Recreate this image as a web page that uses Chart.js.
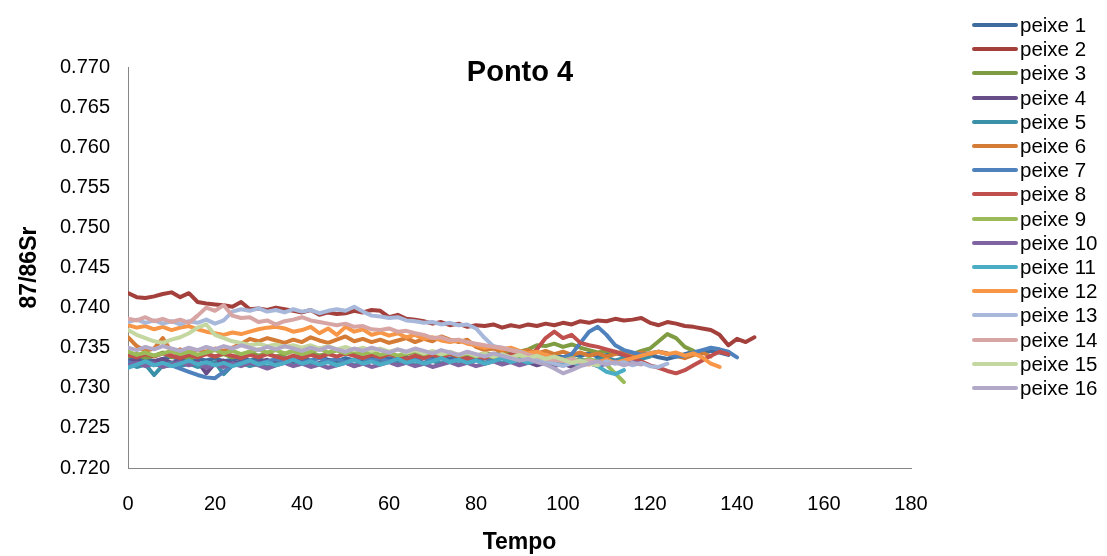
<!DOCTYPE html>
<html>
<head>
<meta charset="utf-8">
<script src="https://cdn.jsdelivr.net/npm/chart.js@4/dist/chart.umd.min.js"></script>
<style>
  body { margin: 0; background: #fff; }
  #wrap { position: relative; width: 1107px; height: 556px; font-family: "Liberation Sans", Arial, sans-serif; }
  #chart { position: absolute; left: 0; top: 0; }
  #title { position: absolute; left: 400px; width: 240px; top: 55px; line-height: 32px; text-align: center; font-weight: bold; font-size: 29px; color: #000; }
  #legend { position: absolute; left: 972px; top: 13px; }
  .leg-row { display: flex; align-items: center; height: 24.2px; font-size: 20.5px; color: #000; white-space: nowrap; }
  .leg-line { width: 46px; height: 4px; border-radius: 2px; margin-right: 2px; }
</style>
</head>
<body>
<div id="wrap">
  <canvas id="chart" width="1107" height="556"></canvas>
  <div id="title">Ponto 4</div>
  <div id="legend"></div>
</div>
<script>
  // Tempo values (shared sample grid for all series)
  var tempo = [0, 2, 4, 6, 8, 10, 12, 14, 16, 18, 20, 22, 24, 26, 28, 30, 32, 34, 36, 38,
    40, 42, 44, 46, 48, 50, 52, 54, 56, 58, 60, 62, 64, 66, 68, 70, 72, 74, 76, 78,
    80, 82, 84, 86, 88, 90, 92, 94, 96, 98, 100, 102, 104, 106, 108, 110, 112, 114, 116, 118,
    120, 122, 124, 126, 128, 130, 132, 134, 136, 138, 140, 142, 144];

  var xTicks = [0, 20, 40, 60, 80, 100, 120, 140, 160, 180];
  var yTicks = [0.720, 0.725, 0.730, 0.735, 0.740, 0.745, 0.750, 0.755, 0.760, 0.765, 0.770];

  var names = ['peixe 1', 'peixe 2', 'peixe 3', 'peixe 4', 'peixe 5', 'peixe 6', 'peixe 7', 'peixe 8',
    'peixe 9', 'peixe 10', 'peixe 11', 'peixe 12', 'peixe 13', 'peixe 14', 'peixe 15', 'peixe 16'];

  var colors = ['#3F6C9E', '#A3403C', '#7F9C43', '#674E89', '#3A91A7', '#D47B35', '#4F81BD', '#C0504D',
    '#9BBB59', '#8064A2', '#4BACC6', '#F79646', '#A7B8DA', '#D7A5A4', '#C4D7A1', '#B2A9C9'];

  var peixe1 = [0.7338, 0.7334, 0.7337, 0.7333, 0.7336, 0.7339, 0.7335, 0.7332, 0.7336, 0.7334,
    0.7337, 0.7333, 0.7335, 0.7338, 0.7334, 0.7336, 0.7332, 0.7335, 0.7337, 0.7333,
    0.7336, 0.7334, 0.7338, 0.7335, 0.7333, 0.7337, 0.7334, 0.7336, 0.7339, 0.7335,
    0.7337, 0.7334, 0.7338, 0.7336, 0.7340, 0.7337, 0.7339, 0.7336, 0.7341, 0.7338,
    0.7340, 0.7337, 0.7341, 0.7339, 0.7342, 0.7338, 0.7340, 0.7343, 0.7339, 0.7341,
    0.7338, 0.7342, 0.7340, 0.7343, 0.7339, 0.7341, 0.7344, 0.7340, 0.7342, 0.7339,
    0.7341, 0.7338, 0.7336, 0.7339, 0.7342, 0.7345, 0.7343, 0.7346, 0.7344, 0.7341];

  var peixe2 = [0.7418, 0.7413, 0.7412, 0.7414, 0.7417, 0.7419, 0.7413, 0.7418, 0.7407, 0.7405,
    0.7404, 0.7403, 0.7401, 0.7407, 0.7398, 0.7399, 0.7397, 0.7400, 0.7398, 0.7396,
    0.7394, 0.7397, 0.7391, 0.7394, 0.7392, 0.7393, 0.7396, 0.7394, 0.7397, 0.7396,
    0.7388, 0.7391, 0.7386, 0.7385, 0.7383, 0.7380, 0.7382, 0.7378, 0.7380, 0.7376,
    0.7378, 0.7377, 0.7379, 0.7375, 0.7378, 0.7376, 0.7379, 0.7377, 0.7380, 0.7378,
    0.7381, 0.7379, 0.7383, 0.7381, 0.7384, 0.7383, 0.7386, 0.7384, 0.7385, 0.7387,
    0.7381, 0.7378, 0.7382, 0.7380, 0.7377, 0.7376, 0.7374, 0.7372, 0.7366, 0.7353,
    0.7361, 0.7357, 0.7363];

  var peixe3 = [0.7339, 0.7342, 0.7337, 0.7340, 0.7344, 0.7338, 0.7341, 0.7336, 0.7340, 0.7343,
    0.7339, 0.7342, 0.7338, 0.7341, 0.7345, 0.7340, 0.7343, 0.7339, 0.7342, 0.7346,
    0.7341, 0.7344, 0.7340, 0.7343, 0.7347, 0.7342, 0.7345, 0.7341, 0.7344, 0.7340,
    0.7343, 0.7339, 0.7342, 0.7345, 0.7341, 0.7344, 0.7340, 0.7343, 0.7339, 0.7342,
    0.7340, 0.7343, 0.7341, 0.7344, 0.7342, 0.7345, 0.7348, 0.7353, 0.7352, 0.7355,
    0.7351, 0.7354, 0.7350, 0.7347, 0.7344, 0.7346, 0.7343, 0.7345, 0.7342, 0.7346,
    0.7349, 0.7358, 0.7367, 0.7362, 0.7351, 0.7346];

  var peixe4 = [0.7332, 0.7335, 0.7330, 0.7333, 0.7336, 0.7331, 0.7334, 0.7329, 0.7333, 0.7318,
    0.7331, 0.7334, 0.7330, 0.7333, 0.7328, 0.7332, 0.7335, 0.7330, 0.7333, 0.7329,
    0.7332, 0.7328, 0.7331, 0.7334, 0.7329, 0.7332, 0.7327, 0.7331, 0.7334, 0.7330,
    0.7333, 0.7329, 0.7332, 0.7335, 0.7331, 0.7334, 0.7330, 0.7333, 0.7336, 0.7332,
    0.7335, 0.7331, 0.7334, 0.7330, 0.7333, 0.7329, 0.7332, 0.7328, 0.7331, 0.7327,
    0.7330, 0.7326, 0.7329];

  var peixe5 = [0.7330, 0.7326, 0.7329, 0.7316, 0.7328, 0.7331, 0.7327, 0.7330, 0.7326, 0.7329,
    0.7332, 0.7317, 0.7328, 0.7331, 0.7327, 0.7330, 0.7326, 0.7329, 0.7332, 0.7328,
    0.7331, 0.7327, 0.7330, 0.7333, 0.7329, 0.7332, 0.7328, 0.7331, 0.7334, 0.7330,
    0.7333, 0.7329, 0.7332, 0.7328, 0.7331, 0.7334, 0.7330, 0.7333, 0.7329, 0.7332,
    0.7335, 0.7331, 0.7334, 0.7330, 0.7333, 0.7336, 0.7332, 0.7335, 0.7331, 0.7334,
    0.7330, 0.7333, 0.7336, 0.7332, 0.7335, 0.7338, 0.7334, 0.7337, 0.7340, 0.7336,
    0.7339];

  var peixe6 = [0.7363, 0.7352, 0.7346, 0.7349, 0.7362, 0.7345, 0.7348, 0.7344, 0.7347, 0.7345,
    0.7349, 0.7346, 0.7350, 0.7355, 0.7361, 0.7358, 0.7362, 0.7359, 0.7356, 0.7360,
    0.7357, 0.7363, 0.7359, 0.7356, 0.7360, 0.7364, 0.7358, 0.7361, 0.7357, 0.7360,
    0.7356, 0.7359, 0.7362, 0.7357, 0.7361, 0.7358, 0.7364, 0.7360, 0.7357, 0.7360,
    0.7351, 0.7347, 0.7349, 0.7345, 0.7348, 0.7344, 0.7347, 0.7343, 0.7346, 0.7342,
    0.7345, 0.7341, 0.7344, 0.7340, 0.7343, 0.7339, 0.7342, 0.7345, 0.7341, 0.7344,
    0.7342, 0.7345, 0.7343, 0.7340, 0.7337, 0.7341, 0.7344, 0.7339];

  var peixe7 = [0.7332, 0.7329, 0.7333, 0.7330, 0.7327, 0.7328, 0.7324, 0.7320, 0.7316, 0.7313,
    0.7312, 0.7320, 0.7328, 0.7331, 0.7334, 0.7330, 0.7333, 0.7336, 0.7332, 0.7335,
    0.7331, 0.7334, 0.7337, 0.7333, 0.7336, 0.7332, 0.7335, 0.7338, 0.7334, 0.7337,
    0.7333, 0.7336, 0.7332, 0.7335, 0.7338, 0.7334, 0.7337, 0.7333, 0.7336, 0.7332,
    0.7335, 0.7338, 0.7334, 0.7337, 0.7333, 0.7336, 0.7339, 0.7335, 0.7338, 0.7334,
    0.7337, 0.7342, 0.7356, 0.7370, 0.7376, 0.7366, 0.7353, 0.7347, 0.7344, 0.7341,
    0.7343, 0.7345, 0.7342, 0.7339, 0.7340, 0.7344, 0.7347, 0.7350, 0.7348, 0.7345,
    0.7338];

  var peixe8 = [0.7341, 0.7338, 0.7342, 0.7339, 0.7343, 0.7340, 0.7337, 0.7341, 0.7338, 0.7342,
    0.7339, 0.7343, 0.7340, 0.7337, 0.7341, 0.7338, 0.7342, 0.7339, 0.7336, 0.7340,
    0.7337, 0.7341, 0.7338, 0.7342, 0.7339, 0.7343, 0.7340, 0.7337, 0.7341, 0.7338,
    0.7342, 0.7339, 0.7336, 0.7340, 0.7337, 0.7341, 0.7338, 0.7342, 0.7339, 0.7336,
    0.7340, 0.7337, 0.7341, 0.7338, 0.7342, 0.7339, 0.7338, 0.7348, 0.7362, 0.7370,
    0.7362, 0.7366, 0.7356, 0.7353, 0.7351, 0.7348, 0.7345, 0.7341, 0.7337, 0.7333,
    0.7328, 0.7325, 0.7321, 0.7318, 0.7322, 0.7328, 0.7334, 0.7340, 0.7345, 0.7342];

  var peixe9 = [0.7345, 0.7341, 0.7344, 0.7340, 0.7343, 0.7346, 0.7342, 0.7345, 0.7341, 0.7344,
    0.7347, 0.7343, 0.7346, 0.7342, 0.7345, 0.7348, 0.7344, 0.7347, 0.7343, 0.7346,
    0.7342, 0.7345, 0.7349, 0.7344, 0.7347, 0.7343, 0.7346, 0.7342, 0.7345, 0.7341,
    0.7344, 0.7340, 0.7343, 0.7346, 0.7342, 0.7345, 0.7341, 0.7344, 0.7340, 0.7343,
    0.7339, 0.7342, 0.7338, 0.7341, 0.7337, 0.7340, 0.7336, 0.7339, 0.7335, 0.7338,
    0.7334, 0.7337, 0.7333, 0.7336, 0.7332, 0.7329, 0.7318, 0.7307];

  var peixe10 = [0.7328, 0.7331, 0.7327, 0.7330, 0.7326, 0.7329, 0.7332, 0.7328, 0.7331, 0.7325,
    0.7329, 0.7326, 0.7330, 0.7327, 0.7331, 0.7328, 0.7324, 0.7328, 0.7331, 0.7327,
    0.7330, 0.7326, 0.7329, 0.7325, 0.7328, 0.7331, 0.7327, 0.7330, 0.7326, 0.7329,
    0.7332, 0.7328, 0.7331, 0.7327, 0.7330, 0.7326, 0.7329, 0.7332, 0.7328, 0.7331,
    0.7327, 0.7330, 0.7333, 0.7329, 0.7332, 0.7328, 0.7331, 0.7334, 0.7330, 0.7333,
    0.7329, 0.7332, 0.7328, 0.7331, 0.7327, 0.7330, 0.7333, 0.7329, 0.7332, 0.7330];

  var peixe11 = [0.7325, 0.7329, 0.7333, 0.7328, 0.7331, 0.7327, 0.7330, 0.7334, 0.7329, 0.7332,
    0.7328, 0.7331, 0.7327, 0.7330, 0.7334, 0.7329, 0.7332, 0.7328, 0.7331, 0.7335,
    0.7330, 0.7333, 0.7329, 0.7332, 0.7328, 0.7331, 0.7335, 0.7330, 0.7333, 0.7329,
    0.7332, 0.7336, 0.7331, 0.7334, 0.7330, 0.7333, 0.7337, 0.7332, 0.7335, 0.7331,
    0.7334, 0.7330, 0.7333, 0.7337, 0.7332, 0.7335, 0.7331, 0.7334, 0.7330, 0.7333,
    0.7329, 0.7332, 0.7328, 0.7331, 0.7327, 0.7320, 0.7317, 0.7322];

  var peixe12 = [0.7378, 0.7375, 0.7377, 0.7373, 0.7376, 0.7372, 0.7375, 0.7377, 0.7373, 0.7370,
    0.7368, 0.7366, 0.7369, 0.7367, 0.7370, 0.7373, 0.7375, 0.7376, 0.7374, 0.7370,
    0.7372, 0.7376, 0.7368, 0.7374, 0.7366, 0.7376, 0.7370, 0.7373, 0.7366, 0.7369,
    0.7365, 0.7368, 0.7363, 0.7366, 0.7361, 0.7363, 0.7359, 0.7357, 0.7359, 0.7355,
    0.7353, 0.7350, 0.7352, 0.7348, 0.7350, 0.7346, 0.7343, 0.7345, 0.7341, 0.7338,
    0.7335, 0.7331, 0.7333, 0.7329, 0.7332, 0.7335, 0.7331, 0.7334, 0.7337, 0.7340,
    0.7343, 0.7345, 0.7342, 0.7344, 0.7340, 0.7343, 0.7338, 0.7330, 0.7326];

  var peixe13 = [0.7382, 0.7385, 0.7381, 0.7384, 0.7380, 0.7383, 0.7379, 0.7383, 0.7381, 0.7385,
    0.7380, 0.7384, 0.7395, 0.7398, 0.7396, 0.7399, 0.7395, 0.7397, 0.7394, 0.7398,
    0.7395, 0.7397, 0.7393, 0.7396, 0.7398, 0.7396, 0.7401, 0.7395, 0.7390, 0.7389,
    0.7387, 0.7388, 0.7384, 0.7383, 0.7381, 0.7382, 0.7379, 0.7381, 0.7378, 0.7379,
    0.7374, 0.7362, 0.7352, 0.7350, 0.7347, 0.7345, 0.7341, 0.7337, 0.7334, 0.7330,
    0.7327, 0.7331, 0.7333, 0.7331, 0.7329, 0.7333, 0.7330, 0.7332, 0.7328, 0.7331,
    0.7327, 0.7326, 0.7330];

  var peixe14 = [0.7386, 0.7384, 0.7388, 0.7383, 0.7386, 0.7382, 0.7385, 0.7381, 0.7390, 0.7400,
    0.7396, 0.7403, 0.7390, 0.7387, 0.7388, 0.7382, 0.7384, 0.7379, 0.7383, 0.7385,
    0.7388, 0.7384, 0.7382, 0.7380, 0.7378, 0.7380, 0.7376, 0.7377, 0.7373, 0.7372,
    0.7374, 0.7370, 0.7371, 0.7368, 0.7366, 0.7362, 0.7363, 0.7359, 0.7360, 0.7357,
    0.7355, 0.7353, 0.7351, 0.7350, 0.7347, 0.7344, 0.7341, 0.7339, 0.7336, 0.7335,
    0.7333, 0.7336, 0.7332, 0.7334, 0.7331];

  var peixe15 = [0.7372, 0.7366, 0.7362, 0.7358, 0.7356, 0.7360, 0.7363, 0.7368, 0.7375, 0.7379,
    0.7366, 0.7362, 0.7358, 0.7356, 0.7353, 0.7355, 0.7352, 0.7354, 0.7351, 0.7353,
    0.7350, 0.7353, 0.7349, 0.7352, 0.7348, 0.7351, 0.7347, 0.7350, 0.7346, 0.7349,
    0.7345, 0.7348, 0.7344, 0.7347, 0.7343, 0.7346, 0.7342, 0.7345, 0.7341, 0.7344,
    0.7340, 0.7343, 0.7339, 0.7342, 0.7338, 0.7341, 0.7337, 0.7340, 0.7336, 0.7339,
    0.7335, 0.7331, 0.7334, 0.7330, 0.7328];

  var peixe16 = [0.7350, 0.7347, 0.7351, 0.7348, 0.7352, 0.7349, 0.7346, 0.7350, 0.7347, 0.7351,
    0.7348, 0.7352, 0.7349, 0.7353, 0.7350, 0.7347, 0.7351, 0.7348, 0.7352, 0.7349,
    0.7346, 0.7350, 0.7347, 0.7351, 0.7348, 0.7345, 0.7349, 0.7346, 0.7350, 0.7347,
    0.7344, 0.7348, 0.7345, 0.7349, 0.7346, 0.7343, 0.7347, 0.7344, 0.7341, 0.7345,
    0.7342, 0.7339, 0.7343, 0.7340, 0.7337, 0.7334, 0.7336, 0.7332, 0.7329, 0.7324,
    0.7318, 0.7322, 0.7327, 0.7330, 0.7333, 0.7329, 0.7332, 0.7328, 0.7331, 0.7329];

  var series = [peixe1, peixe2, peixe3, peixe4, peixe5, peixe6, peixe7, peixe8,
    peixe9, peixe10, peixe11, peixe12, peixe13, peixe14, peixe15, peixe16];

  var FONT = '"Liberation Sans", Arial, sans-serif';
  var AXIS = '#868686';

  // Excel draws later series on top; Chart.js draws lowest `order` last.
  var datasets = series.map(function (vals, i) {
    return {
      label: names[i],
      data: vals.map(function (v, k) { return { x: tempo[k], y: v }; }),
      borderColor: colors[i],
      backgroundColor: colors[i],
      borderWidth: 4,
      pointRadius: 0,
      tension: 0,
      fill: false,
      borderJoinStyle: 'round',
      borderCapStyle: 'round',
      order: series.length - i
    };
  });

  new Chart(document.getElementById('chart'), {
    type: 'line',
    data: { datasets: datasets },
    options: {
      responsive: false,
      animation: false,
      layout: { padding: { left: 0, right: 196, top: 67, bottom: 0 } },
      plugins: {
        legend: { display: false },
        tooltip: { enabled: false },
        title: { display: false }
      },
      scales: {
        x: {
          type: 'linear',
          min: 0,
          max: 180,
          afterBuildTicks: function (s) { s.ticks = xTicks.map(function (v) { return { value: v }; }); },
          afterFit: function (s) { s.height = 88; },
          grid: { display: false, drawTicks: false },
          border: { display: true, color: AXIS, width: 1 },
          ticks: { padding: 24, color: '#000', font: { family: FONT, size: 20 }, maxRotation: 0 },
          title: { display: true, text: 'Tempo', color: '#000', padding: { top: 0, bottom: 0 },
            font: { family: FONT, size: 23, weight: 'bold' } }
        },
        y: {
          min: 0.720,
          max: 0.770,
          afterBuildTicks: function (s) { s.ticks = yTicks.map(function (v) { return { value: v }; }); },
          afterFit: function (s) { s.width = 128; },
          grid: { display: false, drawTicks: false },
          border: { display: true, color: AXIS, width: 1 },
          ticks: { padding: 18, color: '#000', font: { family: FONT, size: 20 },
            callback: function (v) { return Number(v).toFixed(3); } },
          title: { display: true, text: '87/86Sr', color: '#000', padding: { top: 16, bottom: 0 },
            font: { family: FONT, size: 23, weight: 'bold' } }
        }
      }
    }
  });

  // Legend, built as HTML rows so the layout matches the Excel side panel.
  document.getElementById('legend').innerHTML = names.map(function (n, i) {
    return '<div class="leg-row"><span class="leg-line" style="background:' + colors[i] + '"></span>' + n + '</div>';
  }).join('');
</script>
</body>
</html>
